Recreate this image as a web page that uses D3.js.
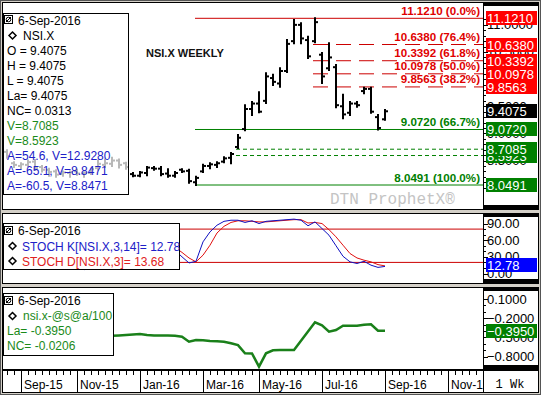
<!DOCTYPE html>
<html>
<head>
<meta charset="utf-8">
<script src="https://cdn.jsdelivr.net/npm/d3@7"></script>
<style>
  body { margin: 0; background: #fff; }
  svg text { font-family: "Liberation Sans", Arial, sans-serif; }
</style>
</head>
<body>
<svg id="chart" width="541" height="395"></svg>
<script>
// NSI.X weekly bars (week start dates)
const weeks = [
  "2015-08-24","2015-08-31","2015-09-07","2015-09-14","2015-09-21","2015-09-28","2015-10-05","2015-10-12",
  "2015-10-19","2015-10-26","2015-11-02","2015-11-09","2015-11-16","2015-11-23","2015-11-30","2015-12-07",
  "2015-12-14","2015-12-21","2015-12-28","2016-01-04","2016-01-11","2016-01-18","2016-01-25","2016-02-01",
  "2016-02-08","2016-02-15","2016-02-22","2016-02-29","2016-03-07","2016-03-14","2016-03-21","2016-03-28",
  "2016-04-04","2016-04-11","2016-04-18","2016-04-25","2016-05-02","2016-05-09","2016-05-16","2016-05-23",
  "2016-05-30","2016-06-06","2016-06-13","2016-06-20","2016-06-27","2016-07-04","2016-07-11","2016-07-18",
  "2016-07-25","2016-08-01","2016-08-08","2016-08-15","2016-08-22","2016-08-29","2016-09-05"
];
const open = [
  8.66,8.45,8.40,8.42,8.48,8.38,8.33,8.30,8.25,8.27,8.30,8.26,8.27,8.36,8.42,8.44,8.50,8.45,
  8.25,8.22,8.27,8.36,8.35,8.26,8.22,8.33,8.31,8.10,8.30,8.40,8.42,8.48,8.55,8.75,9.08,9.45,
  9.55,9.60,10.02,9.92,10.15,10.70,11.00,10.72,10.70,10.45,10.20,10.22,9.50,9.38,9.55,9.78,9.82,9.30,9.26
];
const high = [
  8.69,8.47,8.45,8.50,8.51,8.40,8.35,8.32,8.30,8.30,8.33,8.28,8.35,8.50,8.52,8.55,8.52,8.46,
  8.27,8.29,8.38,8.38,8.38,8.34,8.29,8.34,8.33,8.20,8.42,8.45,8.47,8.56,8.64,8.97,9.52,9.58,
  9.76,10.11,10.08,10.20,10.72,11.09,11.03,10.78,11.121,10.48,10.66,10.26,9.71,9.58,9.58,9.84,9.84,9.34,9.43
];
const low = [
  8.55,8.38,8.36,8.40,8.33,8.30,8.22,8.20,8.22,8.20,8.24,8.20,8.25,8.33,8.38,8.40,8.37,8.35,
  8.21,8.21,8.23,8.33,8.23,8.20,8.20,8.29,8.09,8.0491,8.29,8.36,8.38,8.47,8.45,8.73,9.06,9.34,
  9.39,9.56,9.89,9.86,10.13,10.66,10.66,10.39,10.68,9.93,10.17,9.48,9.28,9.34,9.49,9.74,9.38,9.072,9.25
];
const close = [
  8.58,8.42,8.43,8.47,8.36,8.33,8.29,8.24,8.28,8.29,8.26,8.27,8.34,8.44,8.45,8.50,8.42,8.38,
  8.22,8.28,8.37,8.35,8.25,8.22,8.27,8.30,8.12,8.18,8.40,8.43,8.45,8.54,8.62,8.92,9.45,9.55,
  9.40,10.05,9.95,10.15,10.65,11.00,10.75,10.42,11.05,10.05,10.40,9.52,9.35,9.55,9.52,9.82,9.40,9.10,9.4075
];

// stochastics (3,14)
const stochK = [
  25,10,7,14,35,48,55,50,38,25,15,7,8,22,38,52,60,58,45,42,55,60,55,45,42,
  30,19,22,57,75,87,94,96,96,92,95,90,94,95,96,97,98,96,86,93,81,69,50,31,21,18,22,15,11,12.78
];
const stochD = [
  30,20,14,11,19,32,46,51,48,38,26,16,10,13,23,37,50,57,54,48,47,52,57,53,47,
  38,28,21,33,51,73,85,92,95,95,94,93,93,94,95,96,97,97,91,92,90,79,66,51,36,28,24,21,16,13.68
];

// spread nsi.x-@s@a/100
const spread = [
  -0.45,-0.44,-0.46,-0.47,-0.45,-0.44,-0.46,-0.48,-0.47,-0.46,-0.45,-0.47,-0.48,-0.47,-0.47,
  -0.473,-0.468,-0.462,-0.455,-0.446,-0.46,-0.47,-0.47,-0.47,-0.475,-0.488,-0.566,-0.54,-0.545,
  -0.555,-0.56,-0.566,-0.59,-0.62,-0.747,-0.75,-0.956,-0.747,-0.70,-0.696,-0.696,-0.696,-0.552,
  -0.408,-0.264,-0.31,-0.41,-0.384,-0.316,-0.316,-0.316,-0.30,-0.295,-0.394,-0.395
];

const fibLevels = [11.1210, 10.6380, 10.3392, 10.0978, 9.8563];
const fibLabels = ["11.1210 (0.0%)", "10.6380 (76.4%)", "10.3392 (61.8%)", "10.0978 (50.0%)", "9.8563 (38.2%)"];
const supLevels = [9.0720, 8.0491];
const supLabels = ["9.0720 (66.7%)", "8.0491 (100.0%)"];
const vLevels = [8.5923, 8.7085];
const lastPrice = 9.4075;

const priceTicks = [8.0, 8.5, 9.0, 9.5, 10.0, 10.5, 11.0];
const stochTicks = [0, 30, 60, 90];
const stochBands = [20, 80];
const spreadTicks = [0.1, -0.2, -0.5, -0.8];
const monthTicks = ["2015-09-07","2015-11-02","2016-01-04","2016-03-07","2016-05-02","2016-07-04","2016-09-05","2016-11-07"];

const priceLegend = [
  {t: "O = 9.4075", c: "#000"}, {t: "H = 9.4075", c: "#000"}, {t: "L = 9.4075", c: "#000"},
  {t: "La= 9.4075", c: "#000"}, {t: "NC= 0.0313", c: "#000"},
  {t: "V=8.7085", c: "#1a8a1a"}, {t: "V=8.5923", c: "#1a8a1a"},
  {t: "A=54.6, V=12.9280", c: "#2020c8"}, {t: "A=-65.1, V=8.8471", c: "#2020c8"}, {t: "A=-60.5, V=8.8471", c: "#2020c8"}
];

const RED = "#e00000", DRED = "#cc0000", GREEN = "#008000", BLUE = "#0000cc";

const svg = d3.select("#chart");
const plotL = 2, plotR = 483, axR = 538;
const pPrice = {top: 2, bottom: 209};
const pStoch = {top: 213, bottom: 283};
const pSpread = {top: 287, bottom: 369};

const parse = d3.timeParse("%Y-%m-%d");
const dates = weeks.map(parse);
const x = d3.scaleTime().domain([parse("2015-09-07"), parse("2016-09-05")]).range([21, 385]);

const yP = d3.scaleLinear().domain([8.0491, 11.1210]).range([185, 18.3]);
const yS = d3.scaleLinear().domain([0, 100]).range([273.5, 218]);
const yD = d3.scaleLinear().domain([0.1, -0.8]).range([299, 356.7]);

// frame
svg.append("rect").attr("x", 0.5).attr("y", 0.5).attr("width", 540).attr("height", 394)
  .attr("fill", "#d4d0c8").attr("stroke", "#555");

const defs = svg.append("defs");
function panel(name, p) {
  svg.append("rect").attr("x", plotL).attr("y", p.top).attr("width", axR - plotL).attr("height", p.bottom - p.top)
    .attr("fill", "#fff").attr("stroke", "#000").attr("shape-rendering", "crispEdges");
  svg.append("line").attr("x1", plotR + 0.5).attr("x2", plotR + 0.5).attr("y1", p.top).attr("y2", p.bottom)
    .attr("stroke", "#000");
  svg.append("rect").attr("x", plotR).attr("y", p.top).attr("width", axR - plotR).attr("height", 4).attr("fill", "#000");
  svg.append("rect").attr("x", plotR).attr("y", p.bottom - 4).attr("width", axR - plotR).attr("height", 4).attr("fill", "#000");
  defs.append("clipPath").attr("id", "clip-" + name).append("rect")
    .attr("x", plotL + 1).attr("y", p.top + 1).attr("width", plotR - plotL - 1).attr("height", p.bottom - p.top - 1);
  return svg.append("g").attr("clip-path", "url(#clip-" + name + ")");
}

function rightAxis(scale, ticks, fmt, minorStep) {
  const g = svg.append("g");
  const dom = scale.domain();
  const lo = Math.min(dom[0], dom[1]), hi = Math.max(dom[0], dom[1]);
  const minors = d3.range(Math.ceil(lo / minorStep) * minorStep, hi, minorStep);
  g.selectAll("line.minor").data(minors).join("line")
    .attr("x1", plotR).attr("x2", plotR + 3).attr("y1", d => Math.round(scale(d)) + 0.5).attr("y2", d => Math.round(scale(d)) + 0.5)
    .attr("stroke", "#000");
  g.selectAll("line.major").data(ticks).join("line")
    .attr("x1", plotR).attr("x2", plotR + 5).attr("y1", d => Math.round(scale(d)) + 0.5).attr("y2", d => Math.round(scale(d)) + 0.5)
    .attr("stroke", "#000");
  g.selectAll("text").data(ticks).join("text")
    .attr("x", plotR + 4).attr("y", d => scale(d) + 4.5).attr("font-size", 13).text(fmt);
}

function valueBox(yv, label, fill) {
  const cy = Math.round(yv);
  svg.append("rect").attr("x", 486).attr("y", cy - 7).attr("width", 51).attr("height", 14).attr("fill", fill);
  svg.append("text").attr("x", 487).attr("y", cy + 5).attr("font-size", 13).attr("fill", "#fff").text(label);
}

function legendIcon(g, x0, y0) {
  g.append("rect").attr("x", x0 + 0.5).attr("y", y0 + 0.5).attr("width", 8).attr("height", 8).attr("fill", "#fff").attr("stroke", "#000");
  g.append("circle").attr("cx", x0 + 4.5).attr("cy", y0 + 4.5).attr("r", 2.3).attr("fill", "none").attr("stroke", "#000");
  g.append("line").attr("x1", x0 + 2).attr("y1", y0 + 7).attr("x2", x0 + 7).attr("y2", y0 + 2).attr("stroke", "#000");
}
function diamond(g, cx, cy) {
  g.append("path").attr("d", `M${cx},${cy - 3.5}L${cx + 3.5},${cy}L${cx},${cy + 3.5}L${cx - 3.5},${cy}Z`)
    .attr("fill", "#fff").attr("stroke", "#000").attr("stroke-width", 1.5);
}

// ---------- price panel ----------
const gP = panel("price", pPrice);
const xLow = x(dates[27]) - 1, xHigh = x(dates[44]) - 2, xV = x(dates[33]) - 2;

gP.append("line").attr("x1", xLow).attr("x2", plotR).attr("y1", yP(fibLevels[0])).attr("y2", yP(fibLevels[0]))
  .attr("stroke", DRED);
gP.selectAll("line.fib").data(fibLevels.slice(1)).join("line")
  .attr("x1", xHigh).attr("x2", plotR).attr("y1", d => yP(d)).attr("y2", d => yP(d))
  .attr("stroke", DRED).attr("stroke-dasharray", "15,8");
gP.selectAll("line.sup").data(supLevels).join("line")
  .attr("x1", xLow).attr("x2", plotR).attr("y1", d => yP(d)).attr("y2", d => yP(d))
  .attr("stroke", GREEN);
gP.selectAll("line.v").data(vLevels).join("line")
  .attr("x1", xV).attr("x2", plotR).attr("y1", d => yP(d)).attr("y2", d => yP(d))
  .attr("stroke", GREEN).attr("stroke-dasharray", "4,3");

const bars = gP.selectAll("g.bar").data(dates).join("g").attr("class", "bar");
bars.append("line").attr("x1", d => x(d)).attr("x2", d => x(d))
  .attr("y1", (d, i) => yP(high[i]) - 1).attr("y2", (d, i) => yP(low[i]) + 1)
  .attr("stroke", "#000").attr("stroke-width", 2);
bars.append("line").attr("x1", d => x(d) - 3).attr("x2", d => x(d))
  .attr("y1", (d, i) => yP(open[i])).attr("y2", (d, i) => yP(open[i]))
  .attr("stroke", "#000").attr("stroke-width", 2);
bars.append("line").attr("x1", d => x(d)).attr("x2", d => x(d) + 3)
  .attr("y1", (d, i) => yP(close[i])).attr("y2", (d, i) => yP(close[i]))
  .attr("stroke", "#000").attr("stroke-width", 2);

gP.selectAll("text.fib").data(fibLevels).join("text")
  .attr("x", 480).attr("y", d => yP(d) - 3.5).attr("text-anchor", "end")
  .attr("font-size", 11.6).attr("font-weight", "bold").attr("fill", RED)
  .text((d, i) => fibLabels[i]);
gP.selectAll("text.sup").data(supLevels).join("text")
  .attr("x", 480).attr("y", d => yP(d) - 3.5).attr("text-anchor", "end")
  .attr("font-size", 11.6).attr("font-weight", "bold").attr("fill", GREEN)
  .text((d, i) => supLabels[i]);

gP.append("text").attr("x", 146).attr("y", 57).attr("font-size", 11).attr("font-weight", "bold")
  .attr("fill", "#111").text("NSI.X WEEKLY");
gP.append("text").attr("x", 330).attr("y", 204).attr("font-size", 16)
  .style("font-family", "'Liberation Mono', monospace").attr("fill", "#c4c4c4").text("DTN ProphetX®");

// price legend
const lgP = svg.append("g");
lgP.append("rect").attr("x", 3.5).attr("y", 13.5).attr("width", 125).attr("height", 181)
  .attr("fill", "#fff").attr("fill-opacity", 0.72).attr("stroke", "#000");
legendIcon(lgP, 4, 15);
lgP.append("text").attr("x", 18).attr("y", 25).attr("font-size", 12).text("6-Sep-2016");
diamond(lgP, 12.5, 35.5);
lgP.append("text").attr("x", 23).attr("y", 40).attr("font-size", 12).text("NSI.X");
lgP.selectAll("text.row").data(priceLegend).join("text")
  .attr("x", 7).attr("y", (d, i) => 55 + 15 * i).attr("font-size", 12).attr("fill", d => d.c).text(d => d.t);

rightAxis(yP, priceTicks, d => d3.format(".4f")(d), 0.1);
vLevels.forEach(v => valueBox(yP(v), d3.format(".4f")(v), GREEN));
supLevels.slice().reverse().forEach(v => valueBox(yP(v), d3.format(".4f")(v), GREEN));
valueBox(yP(lastPrice), d3.format(".4f")(lastPrice), "#000");
fibLevels.slice().reverse().forEach(v => valueBox(yP(v), d3.format(".4f")(v), "#ff0000"));

// ---------- stochastics panel ----------
const gS = panel("stoch", pStoch);
gS.selectAll("line.band").data(stochBands).join("line")
  .attr("x1", plotL).attr("x2", plotR).attr("y1", d => yS(d)).attr("y2", d => yS(d)).attr("stroke", DRED);
gS.append("path").datum(stochD).attr("fill", "none").attr("stroke", "#e01010")
  .attr("d", d3.line().x((d, i) => x(dates[i])).y(d => yS(d)));
gS.append("path").datum(stochK).attr("fill", "none").attr("stroke", "#1010c0")
  .attr("d", d3.line().x((d, i) => x(dates[i])).y(d => yS(d)));

const lgS = svg.append("g");
lgS.append("rect").attr("x", 3.5).attr("y", 223.5).attr("width", 176).attr("height", 46).attr("fill", "#fff").attr("stroke", "#000");
legendIcon(lgS, 4, 226);
lgS.append("text").attr("x", 18).attr("y", 235).attr("font-size", 12).text("6-Sep-2016");
diamond(lgS, 12.5, 246);
lgS.append("text").attr("x", 22).attr("y", 250.5).attr("font-size", 12).attr("fill", "#2020c8").text("STOCH K[NSI.X,3,14]= 12.78");
diamond(lgS, 12.5, 261);
lgS.append("text").attr("x", 22).attr("y", 265.5).attr("font-size", 12).attr("fill", "#e02020").text("STOCH D[NSI.X,3]= 13.68");

rightAxis(yS, stochTicks, d => d3.format(".2f")(d), 10);
valueBox(yS(stochK[stochK.length - 1]) - 1, d3.format(".2f")(stochK[stochK.length - 1]), "#0000ff");

// ---------- spread panel ----------
const gD = panel("spread", pSpread);
gD.append("path").datum(spread).attr("fill", "none").attr("stroke", "#1a801a").attr("stroke-width", 2.5)
  .attr("d", d3.line().x((d, i) => x(dates[i])).y(d => yD(d)));

const lgD = svg.append("g");
lgD.append("rect").attr("x", 3.5).attr("y", 293.5).attr("width", 110).attr("height", 62).attr("fill", "#fff").attr("stroke", "#000");
legendIcon(lgD, 4, 296);
lgD.append("text").attr("x", 18).attr("y", 305).attr("font-size", 12).text("6-Sep-2016");
diamond(lgD, 12.5, 316);
lgD.append("text").attr("x", 23).attr("y", 320).attr("font-size", 12).attr("fill", "#1a8a1a").text("nsi.x-@s@a/100");
lgD.append("text").attr("x", 7).attr("y", 335).attr("font-size", 12).attr("fill", "#1a8a1a").text("La= -0.3950");
lgD.append("text").attr("x", 7).attr("y", 350).attr("font-size", 12).attr("fill", "#1a8a1a").text("NC= -0.0206");

rightAxis(yD, spreadTicks, d => d3.format(".4f")(d), 0.1);
valueBox(yD(spread[spread.length - 1]), d3.format(".4f")(spread[spread.length - 1]), GREEN);

// ---------- date axis ----------
const axTop = 370, axBot = 392;
svg.append("rect").attr("x", plotL).attr("y", axTop).attr("width", axR - plotL).attr("height", axBot - axTop)
  .attr("fill", "#fff").attr("stroke", "#000").attr("shape-rendering", "crispEdges");
defs.append("clipPath").attr("id", "clip-axis").append("rect")
  .attr("x", plotL).attr("y", axTop).attr("width", plotR - plotL).attr("height", axBot - axTop);
const gX = svg.append("g").attr("clip-path", "url(#clip-axis)");
const weekTicks = d3.timeMonday.range(x.invert(plotL), x.invert(plotR));
gX.selectAll("line.wk").data(weekTicks).join("line")
  .attr("x1", d => Math.round(x(d)) + 0.5).attr("x2", d => Math.round(x(d)) + 0.5)
  .attr("y1", axTop).attr("y2", axTop + 5).attr("stroke", "#000");
const months = monthTicks.map(parse);
gX.selectAll("line.mo").data(months).join("line")
  .attr("x1", d => Math.round(x(d)) + 0.5).attr("x2", d => Math.round(x(d)) + 0.5)
  .attr("y1", axTop).attr("y2", axBot).attr("stroke", "#000");
gX.selectAll("text").data(months).join("text")
  .attr("x", d => x(d) + 3).attr("y", 389).attr("font-size", 12).text(d3.timeFormat("%b-%y"));
svg.append("line").attr("x1", plotR + 0.5).attr("x2", plotR + 0.5).attr("y1", axTop).attr("y2", axBot).attr("stroke", "#000");
svg.append("text").attr("x", 510).attr("y", 388).attr("text-anchor", "middle").attr("font-size", 12)
  .style("font-family", "'Liberation Mono', monospace").text("1 Wk");
</script>
</body>
</html>
